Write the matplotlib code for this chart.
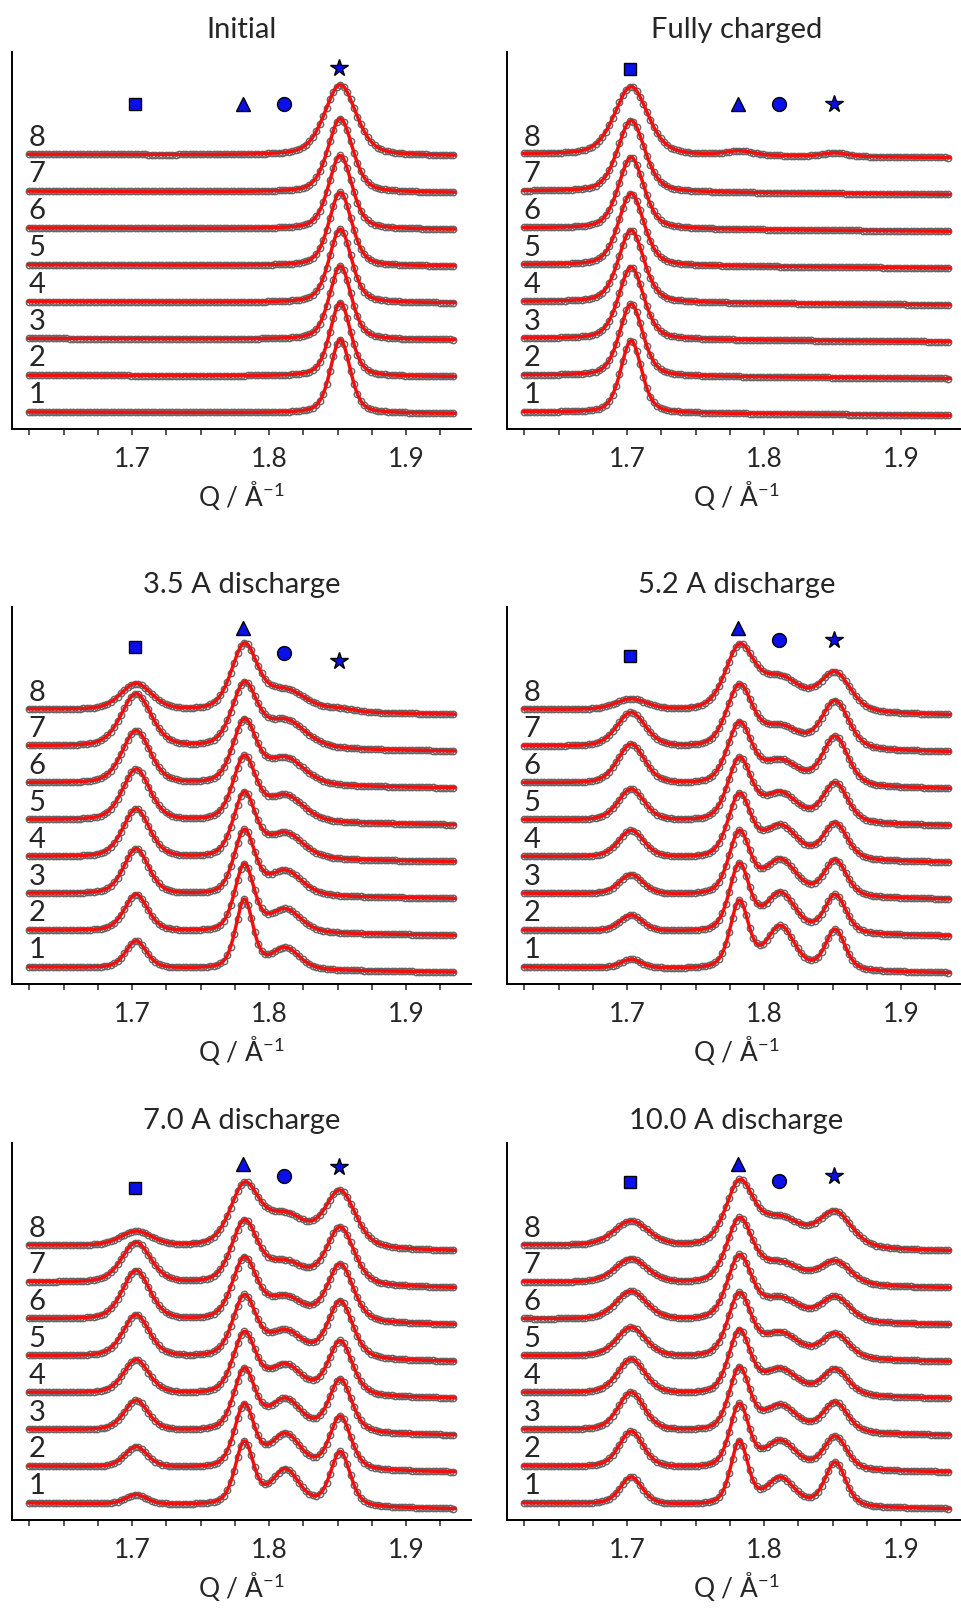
import numpy as np
import matplotlib.pyplot as plt
from matplotlib.ticker import MultipleLocator

plt.rcParams['font.family'] = ['Lato', 'DejaVu Sans']
plt.rcParams['mathtext.fontset'] = 'custom'
plt.rcParams['mathtext.rm'] = 'Lato'
plt.rcParams['mathtext.it'] = 'Lato'

# measured Q grid and fine grid for the fit
q_obs = np.arange(1.6245, 1.9355, 0.0025)
q_fit = np.linspace(1.6245, 1.9355, 700)

titles = ['Initial', 'Fully charged', '3.5 A discharge',
          '5.2 A discharge', '7.0 A discharge', '10.0 A discharge']
trace_labels = ['1', '2', '3', '4', '5', '6', '7', '8']

# reflections: square, triangle, circle, star
peak_pos = [1.703, 1.782, 1.812, 1.852]
peak_markers = ['s', '^', 'o', '*']
marker_sizes = [8, 9.5, 10, 13]

# heights (rows: square, triangle, circle, star; cols: trace 1..8)
h_initial = [[0, 0, 0, 0, 0, 0, 0, 0],
             [0, 0, 0, 0, 0, 0, 0, 0],
             [0, 0, 0, 0, 0, 0, 0, 0],
             [1.0, 1.0, 1.0, 1.0, 1.0, 1.0, 1.0, 0.96]]
h_charged = [[0.98, 0.98, 0.98, 0.98, 0.98, 0.97, 0.97, 0.93],
             [0, 0, 0, 0, 0, 0, 0, 0.06],
             [0, 0, 0, 0, 0, 0, 0, 0],
             [0, 0, 0, 0, 0, 0, 0, 0.05]]
h_35 = [[0.37, 0.50, 0.62, 0.66, 0.70, 0.72, 0.72, 0.36],
        [0.94, 0.91, 0.87, 0.87, 0.86, 0.85, 0.84, 0.88],
        [0.29, 0.31, 0.33, 0.34, 0.35, 0.36, 0.37, 0.28],
        [0, 0, 0, 0, 0, 0, 0, 0.04]]
h_52 = [[0.12, 0.22, 0.27, 0.37, 0.43, 0.54, 0.47, 0.15],
        [0.91, 0.91, 0.85, 0.85, 0.84, 0.82, 0.83, 0.83],
        [0.58, 0.53, 0.48, 0.44, 0.38, 0.32, 0.28, 0.44],
        [0.55, 0.52, 0.49, 0.49, 0.54, 0.67, 0.65, 0.52]]
h_70 = [[0.13, 0.28, 0.41, 0.46, 0.57, 0.67, 0.55, 0.20],
        [0.85, 0.85, 0.83, 0.82, 0.82, 0.83, 0.83, 0.80],
        [0.48, 0.46, 0.43, 0.39, 0.35, 0.31, 0.28, 0.42],
        [0.74, 0.72, 0.72, 0.74, 0.78, 0.78, 0.78, 0.76]]
h_100 = [[0.37, 0.49, 0.52, 0.47, 0.40, 0.39, 0.33, 0.34],
         [0.86, 0.86, 0.85, 0.85, 0.85, 0.86, 0.86, 0.84],
         [0.37, 0.37, 0.35, 0.34, 0.33, 0.30, 0.28, 0.38],
         [0.60, 0.45, 0.41, 0.36, 0.34, 0.34, 0.32, 0.48]]
heights = [h_initial, h_charged, h_35, h_52, h_70, h_100]

# FWHM of each reflection for trace 1, per panel
fwhm_initial = [0.018, 0.015, 0.024, 0.017]
fwhm_charged = [0.018, 0.015, 0.024, 0.014]
fwhm_35 = [0.018, 0.015, 0.024, 0.016]
fwhm_52 = [0.018, 0.016, 0.024, 0.017]
fwhm_70 = [0.018, 0.016, 0.024, 0.017]
fwhm_100 = [0.019, 0.015, 0.024, 0.018]
fwhms = [fwhm_initial, fwhm_charged, fwhm_35, fwhm_52, fwhm_70, fwhm_100]

# peak broadening for traces 1..8
broad_initial = [1.0, 1.06, 1.1, 1.13, 1.15, 1.18, 1.25, 1.6]
broad_charged = [1.0, 1.12, 1.2, 1.22, 1.22, 1.22, 1.3, 1.6]
broad_35 = [1.0, 1.12, 1.2, 1.28, 1.32, 1.36, 1.45, 1.5]
broad_52 = [1.0, 1.08, 1.15, 1.22, 1.26, 1.3, 1.38, 1.55]
broad_70 = [1.0, 1.08, 1.15, 1.22, 1.26, 1.32, 1.4, 1.55]
broad_100 = [1.0, 1.1, 1.18, 1.25, 1.32, 1.4, 1.48, 1.58]
broads = [broad_initial, broad_charged, broad_35, broad_52, broad_70, broad_100]

# background drop across the Q range
tilts = [0.02, 0.045, 0.07, 0.08, 0.08, 0.08]

# y of the reflection markers above the stack
mark_y = [[4.19, 4.19, 4.19, 4.67],
          [4.66, 4.18, 4.18, 4.18],
          [4.34, 4.60, 4.27, 4.15],
          [4.22, 4.61, 4.44, 4.44],
          [4.28, 4.61, 4.44, 4.57],
          [4.36, 4.61, 4.37, 4.44]]

offset = 0.5
eta = 0.4


def pvoigt(q, c, w):
    d = (q - c) / w
    g = np.exp(-4 * np.log(2) * d ** 2)
    l = 1.0 / (1 + 4 * d ** 2)
    return eta * l + (1 - eta) * g


def profile(q, h, fw, br, tilt, k):
    y = np.zeros_like(q)
    for p in range(4):
        if h[p][k] > 0:
            y += h[p][k] * pvoigt(q, peak_pos[p], fw[p] * br[k])
    y -= tilt * (q - q_obs[0]) / (q_obs[-1] - q_obs[0])
    return y


W, H = 961, 1613
fig = plt.figure(figsize=(W / 100, H / 100), dpi=100)

col_x = [12, 507]
row_top = [52, 607, 1143]
ax_w, ax_h = 459, 377
ink = '#262626'

for i, title in enumerate(titles):
    r, c = divmod(i, 2)
    ax = fig.add_axes([col_x[c] / W, 1 - (row_top[r] + ax_h) / H, ax_w / W, ax_h / H])
    h = heights[i]
    for k in range(8):
        base = k * offset
        ax.plot(q_obs, base + profile(q_obs, h, fwhms[i], broads[i], tilts[i], k),
                'o', ms=4.6, mfc='none', mec='#666666', mew=1.0, zorder=2)
        ax.plot(q_fit, base + profile(q_fit, h, fwhms[i], broads[i], tilts[i], k),
                '-', color='#f01010', lw=2.5, zorder=3)
        ax.text(1.6245, base + 0.12, trace_labels[k], fontsize=21,
                ha='left', va='baseline', color=ink)
    for p in range(4):
        ax.plot(peak_pos[p] - 0.001, mark_y[i][p], marker=peak_markers[p],
                ms=marker_sizes[p], mfc='#0c10e8', mec='black', mew=1.0,
                ls='none', zorder=4, clip_on=False)

    ax.set_xlim(1.6124, 1.9474)
    ax.set_ylim(-0.23, 4.89)
    ax.spines['top'].set_visible(False)
    ax.spines['right'].set_visible(False)
    ax.spines['left'].set_linewidth(1.4)
    ax.spines['bottom'].set_linewidth(1.4)
    ax.set_yticks([])
    ax.xaxis.set_major_locator(MultipleLocator(0.1))
    ax.xaxis.set_minor_locator(MultipleLocator(0.025))
    ax.tick_params(axis='x', which='both', direction='out', length=4, width=1.1,
                   labelsize=19, pad=9, colors=ink)
    ax.set_xticks([1.7, 1.8, 1.9])
    ax.set_xticklabels(['1.7', '1.8', '1.9'])
    ax.set_xlabel('Q / Å$^{-1}$', fontsize=19, labelpad=5, color=ink)
    ax.set_title(title, fontsize=21, pad=10, color=ink)

fig.savefig('out.png', dpi=100)
